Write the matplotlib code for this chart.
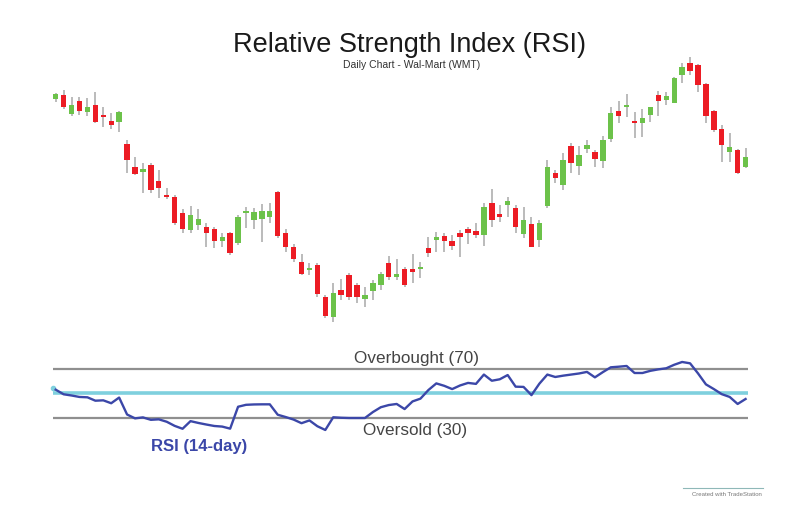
import numpy as np
import matplotlib
matplotlib.use("Agg")
import matplotlib.pyplot as plt

plt.rcParams['font.family'] = ['Liberation Sans', 'DejaVu Sans']

# daily OHLC (price units are notional)
opens = [70.04, 70.27, 69.30, 69.97, 69.40, 69.74, 69.27, 68.94, 68.90, 67.80,
         66.64, 66.40, 66.77, 65.97, 65.27, 65.17, 64.37, 63.50, 63.77, 63.67,
         63.57, 62.97, 63.34, 62.84, 64.34, 64.00, 64.07, 64.14, 65.40, 63.37,
         62.67, 61.90, 61.50, 61.75, 60.14, 59.14, 60.50, 61.25, 60.74, 60.05,
         60.44, 60.74, 61.84, 61.14, 61.55, 61.54, 61.54, 62.60, 63.00, 63.20,
         62.93, 63.37, 63.54, 63.44, 63.25, 64.87, 64.30, 64.74, 64.60, 63.30,
         63.79, 63.00, 64.70, 66.37, 65.75, 67.70, 66.70, 67.54, 67.42, 66.97,
         68.04, 69.47, 69.67, 68.94, 68.84, 69.24, 70.25, 70.00, 69.87, 71.25,
         71.84, 71.74, 70.80, 69.44, 68.57, 67.40, 67.50, 66.67]
closes = [70.30, 69.67, 69.74, 69.44, 69.64, 68.90, 69.17, 68.77, 69.40, 67.00,
          66.30, 66.57, 65.50, 65.59, 65.14, 63.87, 63.54, 64.24, 64.07, 63.34,
          62.97, 63.14, 62.37, 64.17, 64.47, 64.42, 64.47, 64.47, 63.20, 62.64,
          62.04, 61.30, 61.59, 60.30, 59.20, 60.37, 60.25, 60.17, 60.14, 60.25,
          60.87, 61.30, 61.17, 61.30, 60.75, 61.42, 61.62, 62.37, 63.17, 62.97,
          62.70, 63.17, 63.37, 63.27, 64.64, 64.00, 64.14, 64.97, 63.67, 64.00,
          62.67, 63.87, 66.64, 66.09, 67.00, 66.84, 67.24, 67.74, 67.04, 68.00,
          69.34, 69.20, 69.74, 68.87, 69.09, 69.64, 69.97, 70.20, 71.09, 71.64,
          71.47, 70.74, 69.20, 68.50, 67.74, 67.67, 66.37, 67.14]
highs = [70.37, 70.50, 70.17, 70.14, 70.09, 70.42, 69.67, 69.37, 69.47, 68.00,
         67.14, 66.87, 66.84, 66.50, 65.59, 65.25, 64.54, 64.70, 64.57, 63.87,
         63.67, 63.34, 63.42, 64.25, 64.64, 64.59, 64.80, 64.84, 65.44, 63.54,
         62.80, 62.30, 61.84, 61.84, 60.25, 60.84, 61.04, 61.34, 60.84, 60.67,
         61.00, 61.42, 62.20, 62.04, 61.67, 62.30, 61.92, 63.17, 63.42, 63.34,
         63.25, 63.50, 63.67, 63.84, 64.84, 65.54, 64.75, 65.17, 64.75, 64.64,
         64.17, 64.00, 67.00, 66.50, 67.34, 67.87, 67.70, 68.00, 67.50, 68.20,
         69.67, 69.97, 70.30, 69.40, 69.57, 69.67, 70.47, 70.42, 71.14, 71.84,
         72.17, 71.80, 70.87, 69.50, 68.75, 68.34, 67.54, 67.59]
lows = [69.92, 69.54, 69.20, 69.27, 69.20, 68.84, 68.67, 68.54, 68.40, 66.34,
        66.25, 65.34, 65.34, 65.09, 65.04, 63.75, 63.34, 63.34, 63.50, 62.67,
        62.59, 62.67, 62.25, 62.75, 63.59, 63.54, 62.90, 63.84, 63.09, 62.42,
        61.92, 61.25, 61.25, 60.17, 59.09, 58.92, 60.00, 60.00, 59.84, 59.64,
        60.00, 60.50, 61.00, 61.00, 60.67, 60.84, 61.09, 62.17, 62.42, 62.42,
        62.50, 62.17, 62.80, 63.09, 62.70, 63.67, 63.92, 64.17, 63.37, 63.09,
        62.64, 62.67, 64.59, 65.84, 65.50, 66.34, 66.25, 67.34, 66.67, 66.59,
        67.92, 68.84, 69.17, 68.09, 68.14, 68.92, 69.20, 69.75, 69.84, 70.84,
        71.25, 70.42, 68.87, 68.42, 66.92, 66.92, 66.30, 66.59]

# 14-day RSI, one value per day
rsi = [53.0, 49.2, 48.2, 47.0, 46.7, 43.9, 44.2, 41.8, 46.5, 32.5,
       29.3, 30.1, 28.1, 28.5, 26.5, 23.1, 20.7, 27.0, 25.5, 24.2,
       23.0, 22.5, 20.8, 38.9, 40.5, 40.8, 40.9, 40.9, 32.3, 30.4,
       28.3, 25.3, 27.6, 22.8, 19.7, 30.2, 29.8, 29.6, 29.6, 29.6,
       34.5, 38.5, 40.3, 41.2, 37.0, 43.3, 45.6, 52.7, 58.2, 56.2,
       53.5, 56.5, 58.6, 57.8, 65.5, 60.4, 61.6, 65.1, 55.5, 55.3,
       48.5, 58.0, 65.5, 63.5, 64.6, 65.5, 66.4, 67.7, 63.2, 67.5,
       71.5, 72.0, 72.6, 66.8, 66.8, 68.6, 69.8, 70.7, 73.6, 75.9,
       74.8, 66.5, 57.4, 53.5, 49.3, 47.0, 41.2, 45.3]

levels = [70, 50, 30]

o = np.array(opens); c = np.array(closes)
h = np.array(highs); l = np.array(lows)
days = np.arange(len(o))
up = c >= o

fig = plt.figure(figsize=(8, 5.24), dpi=100)
fig.patch.set_facecolor('white')

xl = (-1.98, 88.82)

# price panel
ax = fig.add_axes([0.05, 0.3702, 0.9, 0.5344])
ax.vlines(days, l, h, color='#a8a8a8', lw=1.1, zorder=1)
bottoms = np.minimum(o, c)
heights = np.maximum(np.abs(c - o), 0.09)
cols = np.where(up, '#6cc24a', '#ec1c24')
ax.bar(days, heights, bottom=bottoms, width=0.68, color=cols, edgecolor='none', zorder=2)
ax.set_xlim(*xl)
ax.set_ylim(58.5, 72.5)
ax.axis('off')

# RSI panel
ax2 = fig.add_axes([0.05, 0.1412, 0.9, 0.2099])
ax2.hlines([levels[0], levels[2]], -0.3, 87.3, color='#8f8f8f', lw=1.6, zorder=1)
ax2.hlines(levels[1], -0.3, 87.3, color='#7fd0de', lw=2.6, zorder=1)
ax2.plot(days, rsi, color='#3b47a8', lw=1.7, zorder=3)
ax2.plot(days[0] - 0.3, rsi[0] + 1.5, 'o', ms=3, color='#7fd0de', zorder=2)
ax2.set_xlim(*xl)
ax2.set_ylim(3.14, 94.05)
ax2.axis('off')

fig.text(0.512, 1 - 45 / 524, 'Relative Strength Index (RSI)', ha='center', va='center',
         fontsize=19.5, color='#1a1a1a')
fig.text(0.515, 1 - 65 / 524, 'Daily Chart - Wal-Mart (WMT)', ha='center', va='center',
         fontsize=7.5, color='#333333')
fig.text(416 / 800, 1 - 358 / 524, 'Overbought (70)', ha='center', va='center',
         fontsize=12.3, color='#444444')
fig.text(415 / 800, 1 - 431 / 524, 'Oversold (30)', ha='center', va='center',
         fontsize=12.3, color='#444444')
fig.text(199 / 800, 1 - 446 / 524, 'RSI (14-day)', ha='center', va='center',
         fontsize=12, fontweight='bold', color='#3b47a8')

fig.add_artist(plt.Line2D([683 / 800, 763 / 800], [1 - 488 / 524, 1 - 488 / 524],
                          color='#8fb8b8', lw=0.8))
fig.text(727 / 800, 1 - 494 / 524, 'Created with TradeStation', ha='center', va='center',
         fontsize=4.3, color='#777777')

fig.savefig('out.png', dpi=100, facecolor='white')
